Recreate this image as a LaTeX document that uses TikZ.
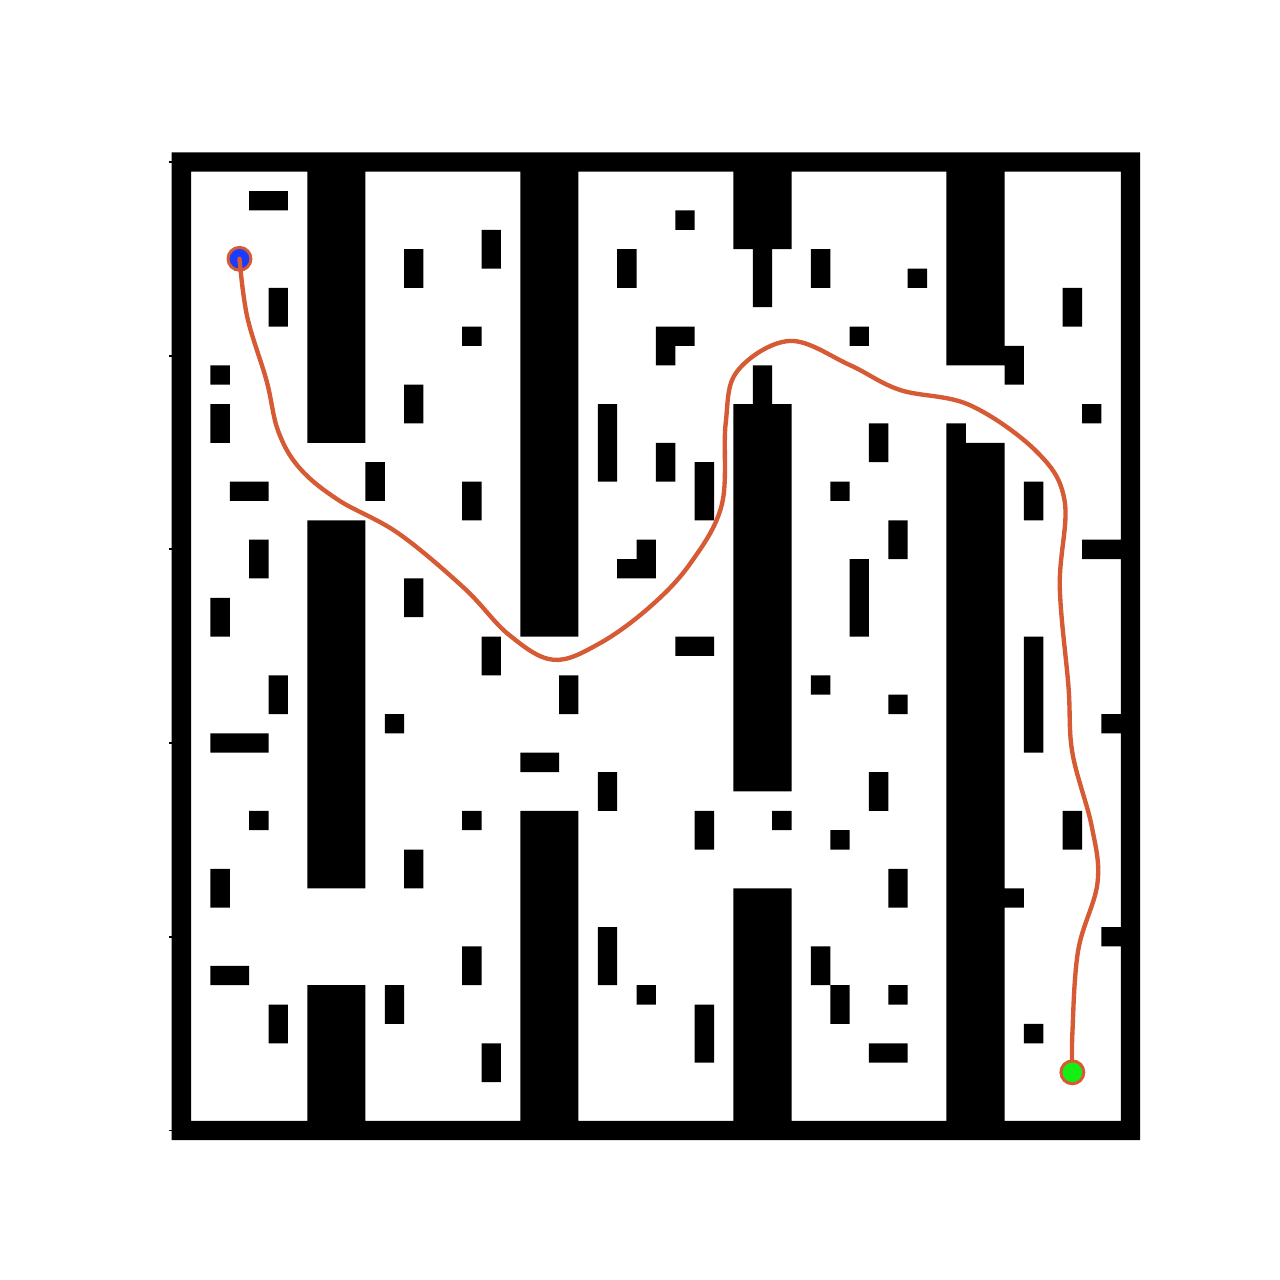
\documentclass[tikz,border=0pt]{standalone}
\usepackage{tikz}
\definecolor{trail}{HTML}{D65B34}
\definecolor{startblue}{HTML}{1A3CFF}
\definecolor{goalgreen}{HTML}{14EE14}
\tikzset{
  wall/.style={fill=black},
  route/.style={draw=trail, line width=1.6pt, line cap=round, line join=round},
  spot/.style={circle, draw=trail, line width=1.1pt, minimum size=8.4pt, inner sep=0pt},
  spotb/.style={spot, fill=startblue},
  spotg/.style={spot, fill=goalgreen},
  tk/.style={line width=0.7pt},
}

\begin{document}
\begin{tikzpicture}[x=0.25cm, y=0.25cm]
  \fill[white] (-8.864,7.863) rectangle (57.22,-58.22);
  \useasboundingbox (-8.864,7.863) rectangle (57.22,-58.22);
  % grid cells: column/row (from top)/width/height
  \fill[wall] foreach \xa/\ya/\nw/\nh in {
      0/0/50/1, 0/50/50/1, 0/0/1/51, 49/0/1/51,
      7/1/3/14, 7/19/3/19, 7/43/3/7,
      18/1/3/24, 18/34/3/16,
      29/1/3/4, 30/5/1/3, 30/11/1/2, 29/13/3/20, 29/38/3/12,
      40/1/3/10, 43/10/1/2, 40/14/1/36, 41/15/2/35,
      4/2/2/1, 16/4/1/2, 26/3/1/1, 12/5/1/2, 23/5/1/2, 33/5/1/2, 38/6/1/1,
      46/7/1/2, 5/7/1/2, 15/9/1/1, 25/9/2/1, 25/10/1/1, 35/9/1/1, 2/11/1/1,
      2/13/1/2, 12/12/1/2, 22/13/1/4, 47/13/1/1, 36/14/1/2, 25/15/1/2,
      10/16/1/2, 27/16/1/3, 3/17/2/1, 15/17/1/2, 34/17/1/1, 44/17/1/2,
      4/20/1/2, 24/20/1/1, 23/21/2/1, 37/19/1/2, 47/20/2/1, 35/21/1/4,
      12/22/1/2, 2/23/1/2, 16/25/1/2, 26/25/2/1, 44/25/1/6, 5/27/1/2,
      20/27/1/2, 33/27/1/1, 37/28/1/1, 11/29/1/1, 48/29/1/1, 2/30/3/1,
      18/31/2/1, 22/32/1/2, 36/32/1/2, 4/34/1/1, 15/34/1/1, 27/34/1/2,
      31/34/1/1, 46/34/1/2, 34/35/1/1, 12/36/1/2, 2/37/1/2, 37/37/1/2,
      43/38/1/1, 22/40/1/3, 48/40/1/1, 15/41/1/2, 33/41/1/2, 2/42/2/1,
      11/43/1/2, 24/43/1/1, 34/43/1/2, 37/43/1/1, 5/44/1/2, 27/44/1/3,
      44/45/1/1, 16/46/1/2, 36/46/2/1}
    { (\xa,-\ya) rectangle ++(\nw,-\nh) };
  \foreach \ty in {0.5,10.5,...,50.5} \draw[tk] (-0.15,-\ty) -- (0,-\ty);
  \node[spotb] (start) at (3.5,-5.5) {};
  \coordinate (goalpt) at (46.5,-47.5);
  \draw[route] plot[smooth, tension=0.6] coordinates {(start.center)
    (3.9,-8.5) (4.9,-11.8) (5.5,-14.4) (6.6,-16.3) (8.6,-17.95) (11.7,-19.67)
    (15.1,-22.5) (17.4,-24.9) (19.7,-26.2) (22.1,-25.35) (24.7,-23.46)
    (26.78,-21.22) (28.4,-18.2) (28.6,-14.0) (29.2,-11.3) (31.9,-9.74)
    (35.0,-10.98) (37.6,-12.27) (41.2,-13.05) (44.66,-15.46) (46.1,-18.0)
    (45.85,-22.4) (46.3,-27.6) (46.5,-31.0) (47.5,-34.8) (47.8,-37.7)
    (46.8,-41.2) (46.5,-45.5) (goalpt)};
  \node[spotg] (goal) at (goalpt) {};
\end{tikzpicture}
\end{document}
